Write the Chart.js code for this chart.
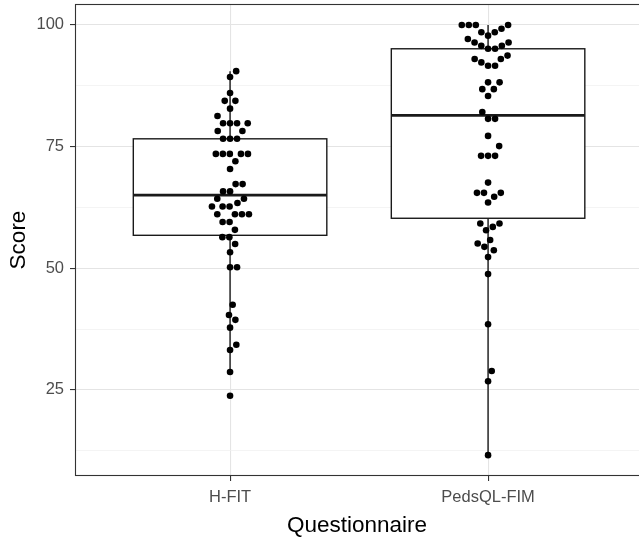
<!DOCTYPE html>
<html>
<head>
<meta charset="utf-8">
<script src="https://cdn.jsdelivr.net/npm/chart.js@4.4.1/dist/chart.umd.min.js"></script>
<style>
  html, body { margin: 0; padding: 0; background: #ffffff; overflow: hidden; }
  #wrap { width: 639px; height: 541px; }
</style>
</head>
<body>
<div id="wrap"><canvas id="scoreChart"></canvas></div>
<script>
const questionnaires = ['H-FIT', 'PedsQL-FIM'];

const hfitScores = [
  90.5, 89.3, 86.0, 84.4, 84.4, 82.8, 81.3, 79.8, 79.8, 79.8, 79.8, 78.2, 78.2,
  76.6, 76.6, 76.6, 73.5, 73.5, 73.5, 73.5, 73.5, 72.0, 70.4, 67.3, 67.3, 65.8,
  65.8, 64.3, 64.3, 63.4, 62.7, 62.7, 62.7, 61.1, 61.1, 61.1, 61.1, 59.5, 59.5,
  57.9, 56.4, 56.4, 55.0, 53.3, 50.2, 50.2, 42.5, 40.4, 39.4, 37.8, 34.3, 33.2,
  28.7, 23.8,
];

const pedsqlScores = [
  100, 100, 100, 100, 99.2, 98.5, 98.5, 97.8, 97.1, 96.4, 96.4, 95.7, 95.7, 95.1,
  95.1, 93.7, 93.0, 93.0, 92.3, 91.6, 91.6, 88.2, 88.2, 86.8, 86.8, 85.4, 82.1,
  80.7, 80.7, 77.2, 75.1, 73.1, 73.1, 73.1, 67.6, 65.5, 65.5, 65.5, 64.7, 63.5,
  59.2, 59.2, 58.5, 57.8, 55.8, 55.1, 54.4, 53.7, 52.3, 48.8, 38.5, 28.9, 26.8,
  11.6,
];

const yMajorTicks = [25, 50, 75, 100];
const yMinorTicks = [12.5, 37.5, 62.5, 87.5];

const groups = [hfitScores, pedsqlScores];

const FONT = "'Liberation Sans', Arial, sans-serif";
const BOX_HALF = 0.375;
const SWARM_W = 7;   // px, horizontal spacing of the swarm
const SWARM_H = 12;  // px, vertical reach of the swarm

const quantile = (sorted, p) => {
  const h = (sorted.length - 1) * p;
  const lo = Math.floor(h);
  const next = sorted[Math.min(lo + 1, sorted.length - 1)];
  return sorted[lo] + (h - lo) * (next - sorted[lo]);
};

const boxStats = (values) => {
  const s = [...values].sort((a, b) => a - b);
  const q1 = quantile(s, 0.25);
  const med = quantile(s, 0.5);
  const q3 = quantile(s, 0.75);
  const iqr = q3 - q1;
  const lo = s.find(v => v >= q1 - 1.5 * iqr);
  const hi = [...s].reverse().find(v => v <= q3 + 1.5 * iqr);
  return { q1, med, q3, lo, hi };
};

// beeswarm "swarm" layout, ascending priority, in pixel space
const swarmOffsets = (values, toPx) => {
  const order = values.map((v, i) => i).sort((a, b) => values[a] - values[b] || a - b);
  const placed = [];
  const out = new Array(values.length).fill(0);
  order.forEach(i => {
    const py = toPx(values[i]) / SWARM_H;
    const near = placed.filter(p => Math.abs(p.y - py) < 1);
    let best = 0;
    if (near.length) {
      const cands = [0];
      near.forEach(p => cands.push(p.x + Math.sqrt(1 - (p.y - py) ** 2)));
      near.forEach(p => cands.push(p.x - Math.sqrt(1 - (p.y - py) ** 2)));
      const good = cands.filter(c => near.every(p => (p.x - c) ** 2 + (p.y - py) ** 2 >= 0.999));
      best = good.reduce((a, c) => (Math.abs(c) < Math.abs(a) ? c : a), Infinity);
    }
    placed.push({ x: best, y: py });
    out[i] = best * SWARM_W;
  });
  return out;
};

const boxPlugin = {
  id: 'boxes',
  beforeDatasetsDraw(chart) {
    const { ctx, scales: { x, y } } = chart;
    ctx.save();
    ctx.strokeStyle = '#1a1a1a';
    groups.forEach((scores, i) => {
      const st = boxStats(scores);
      const cx = x.getPixelForValue(i + 1);
      const left = x.getPixelForValue(i + 1 - BOX_HALF);
      const right = x.getPixelForValue(i + 1 + BOX_HALF);
      const top = y.getPixelForValue(st.q3);
      const bot = y.getPixelForValue(st.q1);
      ctx.lineWidth = 1.4;
      ctx.beginPath();
      ctx.moveTo(cx, y.getPixelForValue(st.hi));
      ctx.lineTo(cx, top);
      ctx.moveTo(cx, bot);
      ctx.lineTo(cx, y.getPixelForValue(st.lo));
      ctx.stroke();
      ctx.fillStyle = '#ffffff';
      ctx.fillRect(left, top, right - left, bot - top);
      ctx.strokeRect(left, top, right - left, bot - top);
      const my = y.getPixelForValue(st.med);
      ctx.lineWidth = 2.8;
      ctx.beginPath();
      ctx.moveTo(left, my);
      ctx.lineTo(right, my);
      ctx.stroke();
    });
    ctx.restore();
  },
  afterDraw(chart) {
    const { ctx, chartArea: a } = chart;
    ctx.save();
    ctx.strokeStyle = '#333333';
    ctx.lineWidth = 1.1;
    ctx.strokeRect(a.left + 0.5, a.top + 0.5, a.right - a.left + 4, a.bottom - a.top - 1);
    ctx.restore();
  },
};

const isMajor = (ctx) => ctx.tick && yMajorTicks.includes(ctx.tick.value);

const chart = new Chart(document.getElementById('scoreChart'), {
  type: 'scatter',
  data: {
    datasets: groups.map((scores, i) => ({
      data: scores.map(v => ({ x: i + 1, y: v })),
      backgroundColor: '#000000',
      borderWidth: 0,
      pointRadius: 3.3,
    })),
  },
  plugins: [boxPlugin],
  options: {
    responsive: true,
    maintainAspectRatio: false,
    animation: false,
    layout: { autoPadding: false, padding: { top: 4, left: 0, right: 0, bottom: 0 } },
    plugins: {
      legend: { display: false },
      tooltip: { enabled: false },
    },
    scales: {
      x: {
        type: 'linear',
        min: 0.399,
        max: 2.585,
        afterBuildTicks: (scale) => {
          scale.ticks = questionnaires.map((q, i) => ({ value: i + 1 }));
        },
        afterFit: (scale) => {
          scale.height = 65;
          scale.paddingLeft = 0;
          scale.paddingRight = 0;
        },
        ticks: {
          autoSkip: false,
          maxRotation: 0,
          padding: 7,
          color: '#4d4d4d',
          font: { family: FONT, size: 16.5 },
          callback: (value) => questionnaires[value - 1] ?? '',
        },
        grid: { color: '#e4e4e4', lineWidth: 1.1, tickLength: 5, tickColor: '#333333', tickWidth: 1.1 },
        border: { display: false },
        title: {
          display: true,
          text: 'Questionnaire',
          color: '#000000',
          font: { family: FONT, size: 22.5 },
          padding: { top: 0, bottom: 2 },
        },
      },
      y: {
        min: 7.32,
        max: 104.3,
        afterBuildTicks: (scale) => {
          scale.ticks = [...yMinorTicks, ...yMajorTicks].sort((a, b) => a - b).map(value => ({ value }));
        },
        afterFit: (scale) => {
          scale.width = 75;
          scale.paddingTop = 0;
          scale.paddingBottom = 0;
        },
        ticks: {
          autoSkip: false,
          padding: 6,
          color: '#4d4d4d',
          font: { family: FONT, size: 16.5 },
          callback: (value) => (yMajorTicks.includes(value) ? String(value) : ''),
        },
        grid: {
          color: (ctx) => (isMajor(ctx) ? '#e4e4e4' : '#efefef'),
          lineWidth: (ctx) => (isMajor(ctx) ? 1.1 : 0.7),
          tickLength: 5,
          tickColor: (ctx) => (isMajor(ctx) ? '#333333' : 'rgba(0,0,0,0)'),
          tickWidth: 1.1,
        },
        border: { display: false },
        title: {
          display: true,
          text: 'Score',
          color: '#000000',
          font: { family: FONT, size: 22.5 },
          padding: { top: 5, bottom: 0 },
        },
      },
    },
  },
});

const applySwarm = () => {
  const { x, y } = chart.scales;
  const unit = x.getPixelForValue(2) - x.getPixelForValue(1);
  groups.forEach((scores, i) => {
    const offsets = swarmOffsets(scores, v => y.getPixelForValue(v));
    chart.data.datasets[i].data = scores.map((v, k) => ({ x: i + 1 + offsets[k] / unit, y: v }));
  });
  chart.update('none');
};

applySwarm();
</script>
</body>
</html>
